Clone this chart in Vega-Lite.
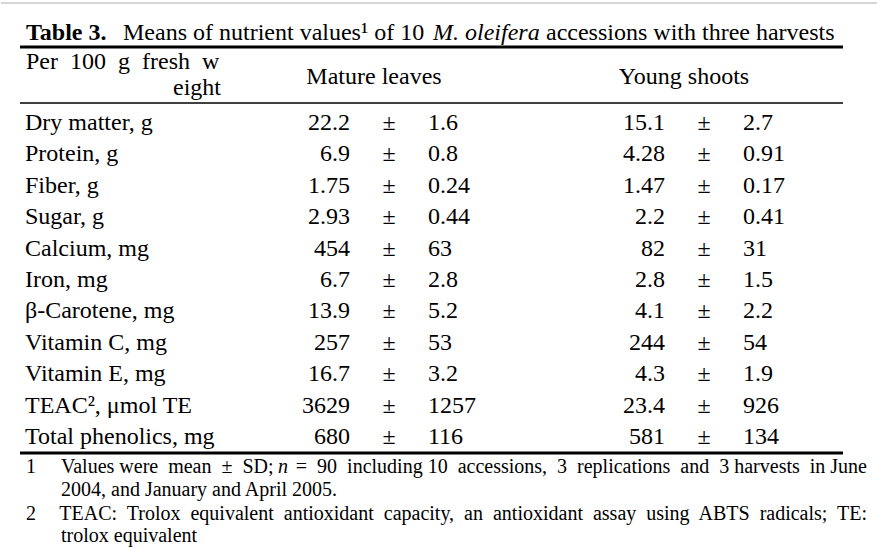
{
  "$schema": "https://vega.github.io/schema/vega-lite/v6.json",
  "width": 877,
  "height": 549,
  "autosize": {"type": "fit", "contains": "padding"},
  "padding": 0,
  "background": "white",
  "config": {"view": {"stroke": null}, "text": {"font": "Liberation Serif", "color": "black"}},
  "datasets": {
    "rows": [
      {"item": "Dry matter, g", "part": "Mature leaves", "mean": "22.2", "sd": "1.6"},
      {"item": "Protein, g", "part": "Mature leaves", "mean": "6.9", "sd": "0.8"},
      {"item": "Fiber, g", "part": "Mature leaves", "mean": "1.75", "sd": "0.24"},
      {"item": "Sugar, g", "part": "Mature leaves", "mean": "2.93", "sd": "0.44"},
      {"item": "Calcium, mg", "part": "Mature leaves", "mean": "454", "sd": "63"},
      {"item": "Iron, mg", "part": "Mature leaves", "mean": "6.7", "sd": "2.8"},
      {"item": "β-Carotene, mg", "part": "Mature leaves", "mean": "13.9", "sd": "5.2"},
      {"item": "Vitamin C, mg", "part": "Mature leaves", "mean": "257", "sd": "53"},
      {"item": "Vitamin E, mg", "part": "Mature leaves", "mean": "16.7", "sd": "3.2"},
      {"item": "TEAC², μmol TE", "part": "Mature leaves", "mean": "3629", "sd": "1257"},
      {"item": "Total phenolics, mg", "part": "Mature leaves", "mean": "680", "sd": "116"},
      {"item": "Dry matter, g", "part": "Young shoots", "mean": "15.1", "sd": "2.7"},
      {"item": "Protein, g", "part": "Young shoots", "mean": "4.28", "sd": "0.91"},
      {"item": "Fiber, g", "part": "Young shoots", "mean": "1.47", "sd": "0.17"},
      {"item": "Sugar, g", "part": "Young shoots", "mean": "2.2", "sd": "0.41"},
      {"item": "Calcium, mg", "part": "Young shoots", "mean": "82", "sd": "31"},
      {"item": "Iron, mg", "part": "Young shoots", "mean": "2.8", "sd": "1.5"},
      {"item": "β-Carotene, mg", "part": "Young shoots", "mean": "4.1", "sd": "2.2"},
      {"item": "Vitamin C, mg", "part": "Young shoots", "mean": "244", "sd": "54"},
      {"item": "Vitamin E, mg", "part": "Young shoots", "mean": "4.3", "sd": "1.9"},
      {"item": "TEAC², μmol TE", "part": "Young shoots", "mean": "23.4", "sd": "926"},
      {"item": "Total phenolics, mg", "part": "Young shoots", "mean": "581", "sd": "134"}
    ]
  },
  "layer": [
    {"data": {"values": [{}]}, "mark": {"type": "rule", "color": "#c8c8c8", "strokeWidth": 1.5},
     "encoding": {"x": {"value": 0}, "x2": {"value": 877}, "y": {"value": 3}}},
    {"data": {"values": [{}]}, "mark": {"type": "rule", "color": "black", "strokeWidth": 3},
     "encoding": {"x": {"value": 19}, "x2": {"value": 842}, "y": {"value": 47}}},
    {"data": {"values": [{}]}, "mark": {"type": "rule", "color": "black", "strokeWidth": 1.5},
     "encoding": {"x": {"value": 19}, "x2": {"value": 842}, "y": {"value": 103}}},
    {"data": {"values": [{}]}, "mark": {"type": "rule", "color": "black", "strokeWidth": 3},
     "encoding": {"x": {"value": 19}, "x2": {"value": 842}, "y": {"value": 453}}},
    {"data": {"values": [{"t": "Table 3."}]}, "mark": {"type": "text", "fontSize": 24, "fontWeight": "bold", "align": "left", "baseline": "alphabetic"},
     "encoding": {"text": {"field": "t"}, "x": {"value": 25}, "y": {"value": 40}}},
    {"data": {"values": [{"t": "Means of nutrient values¹ of 10"}]}, "mark": {"type": "text", "fontSize": 24, "align": "left", "baseline": "alphabetic"},
     "encoding": {"text": {"field": "t"}, "x": {"value": 122}, "y": {"value": 40}}},
    {"data": {"values": [{"t": "M. oleifera"}]}, "mark": {"type": "text", "fontSize": 24, "fontStyle": "italic", "align": "left", "baseline": "alphabetic"},
     "encoding": {"text": {"field": "t"}, "x": {"value": 432}, "y": {"value": 40}}},
    {"data": {"values": [{"t": "accessions with three harvests"}]}, "mark": {"type": "text", "fontSize": 24, "align": "left", "baseline": "alphabetic"},
     "encoding": {"text": {"field": "t"}, "x": {"value": 545}, "y": {"value": 40}}},
    {"data": {"values": [{"t": "Per\u00a0 100\u00a0 g\u00a0 fresh\u00a0 w"}]}, "mark": {"type": "text", "fontSize": 24, "align": "left", "baseline": "alphabetic"},
     "encoding": {"text": {"field": "t"}, "x": {"value": 25}, "y": {"value": 69}}},
    {"data": {"values": [{"t": "eight"}]}, "mark": {"type": "text", "fontSize": 24, "align": "right", "baseline": "alphabetic"},
     "encoding": {"text": {"field": "t"}, "x": {"value": 220}, "y": {"value": 95}}},
    {"data": {"values": [{"t": "Mature leaves"}]}, "mark": {"type": "text", "fontSize": 24, "align": "center", "baseline": "alphabetic"},
     "encoding": {"text": {"field": "t"}, "x": {"value": 373}, "y": {"value": 84}}},
    {"data": {"values": [{"t": "Young shoots"}]}, "mark": {"type": "text", "fontSize": 24, "align": "center", "baseline": "alphabetic"},
     "encoding": {"text": {"field": "t"}, "x": {"value": 683}, "y": {"value": 84}}},
    {"data": {"name": "rows"}, "transform": [{"filter": "datum.part === 'Mature leaves'"}],
     "mark": {"type": "text", "fontSize": 24, "align": "left", "baseline": "middle"},
     "encoding": {"text": {"field": "item"}, "x": {"value": 24},
       "y": {"field": "item", "type": "nominal", "sort": null, "axis": null, "scale": {"range": [107, 453], "paddingInner": 0, "paddingOuter": 0}}}},
    {"data": {"name": "rows"},
     "mark": {"type": "text", "fontSize": 24, "align": "right", "baseline": "middle"},
     "encoding": {"text": {"field": "mean", "type": "nominal"},
       "x": {"field": "part", "type": "nominal", "axis": null, "scale": {"type": "point", "domain": ["Mature leaves", "Young shoots"], "range": [349, 664], "padding": 0}},
       "y": {"field": "item", "type": "nominal", "sort": null}}},
    {"data": {"name": "rows"},
     "mark": {"type": "text", "fontSize": 24, "align": "center", "baseline": "middle", "dx": 39},
     "encoding": {"text": {"value": "±"},
       "x": {"field": "part", "type": "nominal"},
       "y": {"field": "item", "type": "nominal", "sort": null}}},
    {"data": {"name": "rows"},
     "mark": {"type": "text", "fontSize": 24, "align": "left", "baseline": "middle", "dx": 78},
     "encoding": {"text": {"field": "sd", "type": "nominal"},
       "x": {"field": "part", "type": "nominal"},
       "y": {"field": "item", "type": "nominal", "sort": null}}},
    {"data": {"values": [{"t": "1"}]}, "mark": {"type": "text", "fontSize": 20, "align": "left", "baseline": "middle"},
     "encoding": {"text": {"field": "t"}, "x": {"value": 25}, "y": {"value": 467}}},
    {"data": {"values": [{"t": "Values were\u00a0 mean\u00a0 ±\u00a0 SD;"}]}, "mark": {"type": "text", "fontSize": 20, "align": "left", "baseline": "middle"},
     "encoding": {"text": {"field": "t"}, "x": {"value": 60}, "y": {"value": 467}}},
    {"data": {"values": [{"t": "n"}]}, "mark": {"type": "text", "fontSize": 20, "fontStyle": "italic", "align": "left", "baseline": "middle"},
     "encoding": {"text": {"field": "t"}, "x": {"value": 277}, "y": {"value": 467}}},
    {"data": {"values": [{"t": "=\u00a0 90\u00a0 including 10\u00a0 accessions,\u00a0 3\u00a0 replications\u00a0 and\u00a0 3 harvests\u00a0 in June"}]}, "mark": {"type": "text", "fontSize": 20, "align": "right", "baseline": "middle"},
     "encoding": {"text": {"field": "t"}, "x": {"value": 866}, "y": {"value": 467}}},
    {"data": {"values": [{"t": "2004, and January and April 2005."}]}, "mark": {"type": "text", "fontSize": 20, "align": "left", "baseline": "middle"},
     "encoding": {"text": {"field": "t"}, "x": {"value": 60}, "y": {"value": 490}}},
    {"data": {"values": [{"t": "2"}]}, "mark": {"type": "text", "fontSize": 20, "align": "left", "baseline": "middle"},
     "encoding": {"text": {"field": "t"}, "x": {"value": 25}, "y": {"value": 514}}},
    {"data": {"values": [{"t": "TEAC:\u00a0 Trolox\u00a0 equivalent\u00a0 antioxidant\u00a0 capacity,\u00a0 an\u00a0 antioxidant\u00a0 assay\u00a0 using\u00a0 ABTS\u00a0 radicals;\u00a0 TE:"}]}, "mark": {"type": "text", "fontSize": 20, "align": "right", "baseline": "middle"},
     "encoding": {"text": {"field": "t"}, "x": {"value": 866}, "y": {"value": 514}}},
    {"data": {"values": [{"t": "trolox equivalent"}]}, "mark": {"type": "text", "fontSize": 20, "align": "left", "baseline": "middle"},
     "encoding": {"text": {"field": "t"}, "x": {"value": 60}, "y": {"value": 536}}}
  ]
}
